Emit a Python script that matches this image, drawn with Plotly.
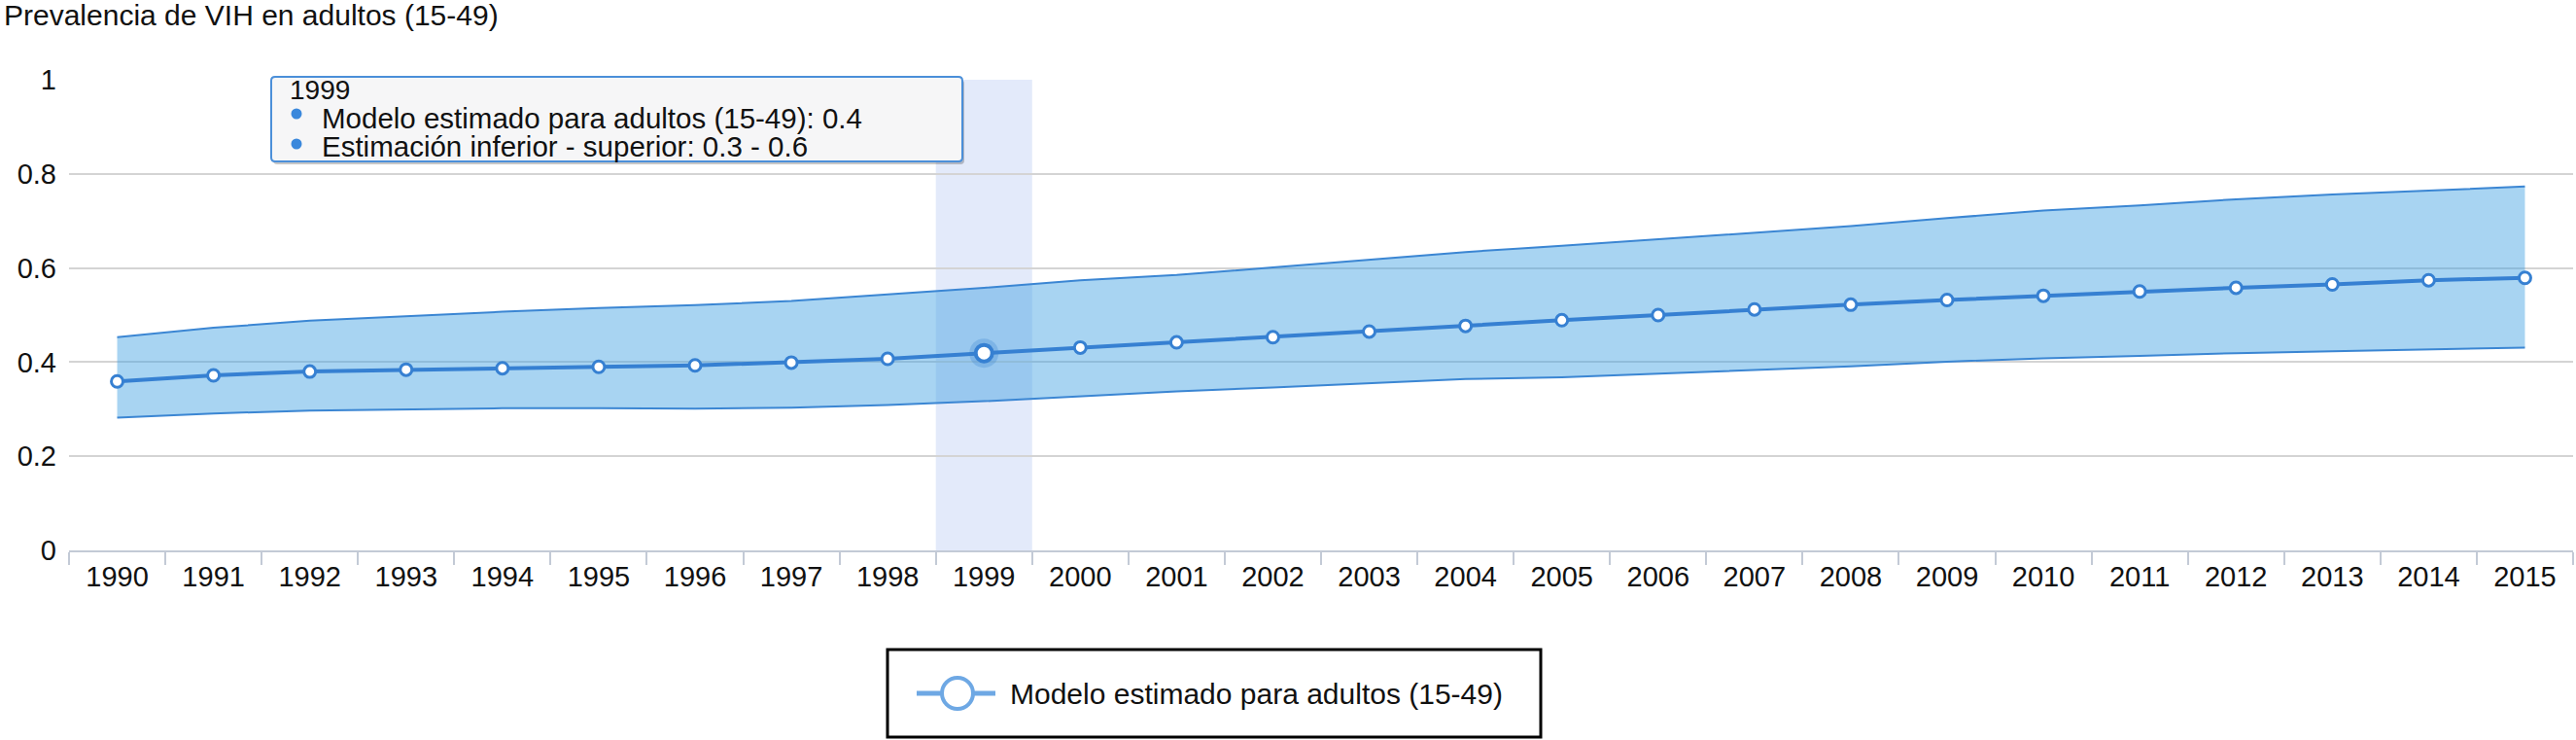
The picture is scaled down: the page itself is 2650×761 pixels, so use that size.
import plotly.graph_objects as go

# ---- data ----
years = [1990, 1991, 1992, 1993, 1994, 1995, 1996, 1997, 1998, 1999, 2000, 2001, 2002,
         2003, 2004, 2005, 2006, 2007, 2008, 2009, 2010, 2011, 2012, 2013, 2014, 2015]
estimate = [0.359, 0.372, 0.380, 0.384, 0.387, 0.390, 0.393, 0.399, 0.407, 0.419, 0.431,
            0.442, 0.453, 0.465, 0.477, 0.489, 0.500, 0.512, 0.522, 0.532, 0.541, 0.550,
            0.558, 0.565, 0.574, 0.579]
upper = [0.453, 0.473, 0.488, 0.498, 0.507, 0.515, 0.521, 0.530, 0.544, 0.558, 0.574,
         0.585, 0.601, 0.618, 0.634, 0.647, 0.661, 0.675, 0.689, 0.706, 0.722, 0.733,
         0.746, 0.756, 0.764, 0.773]
lower = [0.282, 0.291, 0.297, 0.300, 0.302, 0.302, 0.301, 0.303, 0.309, 0.317, 0.328,
         0.338, 0.346, 0.355, 0.364, 0.368, 0.376, 0.383, 0.391, 0.401, 0.408, 0.413,
         0.419, 0.423, 0.427, 0.431]
y_ticks = [0, 0.2, 0.4, 0.6, 0.8, 1]
y_tick_labels = ["0", "0.2", "0.4", "0.6", "0.8", "1"]
title_text = "Prevalencia de VIH en adultos (15-49)"
series_name = "Modelo estimado para adultos (15-49)"
range_name = "Estimación inferior - superior"
highlight_year = 1999

# ---- geometry helpers (pixel -> paper) ----
W, H = 2650, 761
L, R, T, B = 71, 2647, 82, 566
def px(x):
    return (x - L) / (R - L)
def py(y):
    return (B - y) / (B - T)

FONT = "Liberation Sans, Arial, Helvetica, sans-serif"
cats = [str(y) for y in years]
hi = years.index(highlight_year)

LINE_C = "#3680d2"
EDGE_C = "#3b86d3"
FILL_C = "rgba(62,159,226,0.45)"

fig = go.Figure()
fig.add_trace(go.Scatter(x=cats, y=lower, mode="lines", line=dict(color=EDGE_C, width=2),
                         showlegend=False, hoverinfo="skip"))
fig.add_trace(go.Scatter(x=cats, y=upper, mode="lines", line=dict(color=EDGE_C, width=2),
                         fill="tonexty", fillcolor=FILL_C, showlegend=False,
                         name=range_name, hoverinfo="skip"))
fig.add_trace(go.Scatter(x=cats, y=estimate, mode="lines+markers", name=series_name,
                         line=dict(color=LINE_C, width=4),
                         marker=dict(symbol="circle", size=12, color="white",
                                     line=dict(color=LINE_C, width=3)),
                         showlegend=False))
# highlighted (hovered) point
fig.add_trace(go.Scatter(x=[cats[hi]], y=[estimate[hi]], mode="markers",
                         marker=dict(size=30, color="rgba(54,128,210,0.28)",
                                     line=dict(width=0)),
                         showlegend=False, hoverinfo="skip"))
fig.add_trace(go.Scatter(x=[cats[hi]], y=[estimate[hi]], mode="markers",
                         marker=dict(size=17, color="white",
                                     line=dict(color=LINE_C, width=4)),
                         showlegend=False, hoverinfo="skip"))

shapes = []
# highlight column for hovered category
shapes.append(dict(type="rect", xref="x", yref="y", x0=hi - 0.5, x1=hi + 0.5, y0=0, y1=1,
                   fillcolor="#e3eafa", line=dict(width=0), layer="below"))

# tooltip box
tx0, ty0, tx1, ty1 = 279, 79, 990, 166
def rrect(x0, y0, x1, y1, r):
    X = lambda v: px(v)
    Y = lambda v: py(v)
    return (f"M {X(x0+r)} {Y(y0)} L {X(x1-r)} {Y(y0)} Q {X(x1)} {Y(y0)} {X(x1)} {Y(y0+r)} "
            f"L {X(x1)} {Y(y1-r)} Q {X(x1)} {Y(y1)} {X(x1-r)} {Y(y1)} "
            f"L {X(x0+r)} {Y(y1)} Q {X(x0)} {Y(y1)} {X(x0)} {Y(y1-r)} "
            f"L {X(x0)} {Y(y0+r)} Q {X(x0)} {Y(y0)} {X(x0+r)} {Y(y0)} Z")
shapes.append(dict(type="path", xref="paper", yref="paper", path=rrect(tx0 + 2, ty0 + 3, tx1 + 2, ty1 + 3, 4),
                   fillcolor="rgba(0,0,0,0.22)", line=dict(width=0), layer="above"))
shapes.append(dict(type="path", xref="paper", yref="paper", path=rrect(tx0, ty0, tx1, ty1, 4),
                   fillcolor="#f6f6f7", line=dict(color="#4b8fd9", width=2), layer="above"))
for by in (117, 148):
    shapes.append(dict(type="circle", xref="paper", yref="paper",
                       x0=px(299.5), x1=px(310.5), y0=py(by + 5.5), y1=py(by - 5.5),
                       fillcolor="#3a88dc", line=dict(width=0), layer="above"))

# legend (drawn)
shapes.append(dict(type="rect", xref="paper", yref="paper", x0=px(913), x1=px(1585),
                   y0=py(758), y1=py(668), fillcolor="white", line=dict(color="black", width=3),
                   layer="above"))
shapes.append(dict(type="line", xref="paper", yref="paper", x0=px(943), x1=px(1024),
                   y0=py(713), y1=py(713), line=dict(color="#6ea8e4", width=5), layer="above"))
shapes.append(dict(type="circle", xref="paper", yref="paper", x0=px(969), x1=px(1001),
                   y0=py(729), y1=py(697), fillcolor="white", line=dict(color="#6ea8e4", width=4),
                   layer="above"))

annotations = []
annotations.append(dict(text=title_text, xref="paper", yref="paper", x=px(2), y=py(16),
                        xanchor="left", yanchor="middle", showarrow=False,
                        font=dict(family=FONT, size=30, color="#111")))
annotations.append(dict(text=str(highlight_year), xref="paper", yref="paper", x=px(296), y=py(93),
                        xanchor="left", yanchor="middle", showarrow=False,
                        font=dict(family=FONT, size=28, color="#111")))
annotations.append(dict(text=f"{series_name}: {round(estimate[hi], 1)}", xref="paper", yref="paper",
                        x=px(329), y=py(121), xanchor="left", yanchor="middle", showarrow=False,
                        font=dict(family=FONT, size=29.5, color="#111")))
annotations.append(dict(text=f"{range_name}: {round(lower[hi], 1)} - {round(upper[hi], 1)}",
                        xref="paper", yref="paper", x=px(329), y=py(150), xanchor="left",
                        yanchor="middle", showarrow=False,
                        font=dict(family=FONT, size=29.5, color="#111")))
annotations.append(dict(text=series_name, xref="paper", yref="paper", x=px(1037), y=py(713),
                        xanchor="left", yanchor="middle", showarrow=False,
                        font=dict(family=FONT, size=30, color="#111")))

fig.update_layout(
    width=W, height=H,
    margin=dict(l=L, r=W - R, t=T, b=H - B, pad=0),
    paper_bgcolor="white", plot_bgcolor="white",
    font=dict(family=FONT, size=29, color="#111"),
    showlegend=False,
    shapes=shapes, annotations=annotations,
    xaxis=dict(type="category", range=[-0.5, len(cats) - 0.5], showgrid=False,
               showline=True, linecolor="#c3cad6", linewidth=2,
               ticks="outside", tickson="boundaries", ticklen=13, tickwidth=2,
               tickcolor="#c3cad6", tickfont=dict(family=FONT, size=29, color="#111"),
               zeroline=False, fixedrange=True),
    yaxis=dict(range=[0, 1], tickvals=y_ticks, ticktext=y_tick_labels,
               showgrid=True, gridcolor="#d4d4d4", gridwidth=2, zeroline=False,
               showline=False, ticks="", ticklabelstandoff=12,
               tickfont=dict(family=FONT, size=29, color="#111"), fixedrange=True),
)

fig.write_html("out.html", config={"displayModeBar": False},
               post_script="document.body.style.margin='0';document.body.style.overflow='hidden';")
